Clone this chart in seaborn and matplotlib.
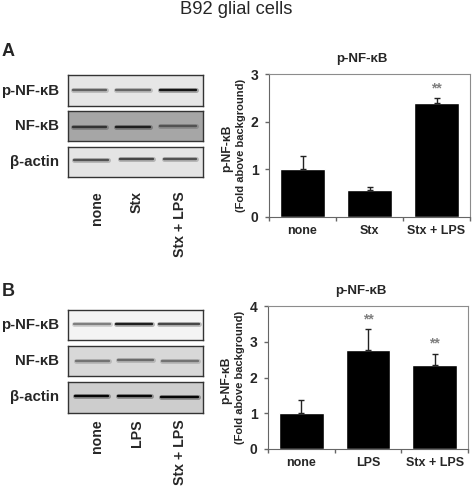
import matplotlib
matplotlib.use("Agg")
import matplotlib.pyplot as plt
import seaborn as sns
import pandas as pd

W = 472
H = 488

sns.set_style("white")
plt.rcParams['font.family'] = ['Liberation Sans', 'DejaVu Sans']

blot_names = ["p-NF-κB", "NF-κB", "β-actin"]
lanes_a = ["none", "Stx", "Stx + LPS"]
lanes_b = ["none", "LPS", "Stx + LPS"]

values_a = [1.0, 0.56, 2.4]
err_top_a = [1.27, 0.63, 2.5]
values_b = [1.0, 2.76, 2.36]
err_top_b = [1.38, 3.35, 2.67]
stars_a = ["", "", "**"]
stars_b = ["", "**", "**"]

# band darkness per lane (0 white, 1 black)
bands_a = [[0.62, 0.6, 0.92], [0.8, 0.88, 0.68], [0.68, 0.72, 0.68]]
bands_b = [[0.5, 0.88, 0.72], [0.55, 0.58, 0.55], [0.98, 0.98, 0.98]]
# band extent inside the blot (0-135 across, 0 at the top edge)
starts_a = [[4, 47, 91], [4, 47, 91], [5, 51, 95]]
ends_a = [[39, 83, 129], [39, 83, 129], [41, 86, 129]]
heights_a = [[15, 15, 15], [16, 15.5, 15], [13.5, 12.5, 12.5]]
starts_b = [[5, 47, 90], [7, 49, 93], [6, 49, 92]]
ends_b = [[43, 85, 132], [42, 86, 131], [41, 84, 131]]
heights_b = [[14, 14, 14], [15, 14, 15], [14, 14, 14.5]]
bg_a = ["#e6e6e6", "#a6a6a6", "#e4e4e4"]
bg_b = ["#f4f4f4", "#d8d8d8", "#cdcdcd"]


def make_ax(fig, left, top, right, bottom):
    return fig.add_axes([left / W, 1 - bottom / H, (right - left) / W, (bottom - top) / H])


def draw_blots(fig, rows, bands, starts, ends, heights, bgs, names, lanes, label_gap):
    for r, (top, bottom) in enumerate(rows):
        ax = make_ax(fig, 68, top, 203, bottom)
        ax.set_facecolor(bgs[r])
        for dark, x0, x1, y in zip(bands[r], starts[r], ends[r], heights[r]):
            g = 1 - dark
            d = pd.DataFrame({"x": [x0 + 1, x1 - 1], "y": [y, y]})
            sns.lineplot(data=d, x="x", y="y", ax=ax, color=(g, g, g), alpha=0.3,
                         lw=3.6, solid_capstyle="round")
            sns.lineplot(data=d, x="x", y="y", ax=ax, color=(g, g, g), lw=1.7,
                         solid_capstyle="round")
        ax.set_xlim(0, 135)
        ax.set_ylim(bottom - top, 0)
        ax.set_xticks([])
        ax.set_yticks([])
        ax.set_xlabel("")
        ax.set_ylabel("")
        for s in ax.spines.values():
            s.set_visible(True)
            s.set_color("#333333")
            s.set_linewidth(1)
        fig.text(59 / W, 1 - (top + bottom) / 2 / H, names[r], ha="right", va="center",
                 fontsize=10.8, fontweight="bold")
    # lane labels under the last blot
    for lab, x in zip(lanes, [97, 137, 180]):
        fig.text(x / W, 1 - (rows[-1][1] + label_gap) / H, lab, rotation=90,
                 ha="center", va="top", fontsize=10.2, fontweight="bold")


def draw_bars(fig, box, labels, values, err_top, stars, ymax):
    ax = make_ax(fig, *box)
    df = pd.DataFrame({"group": labels, "value": values})
    sns.barplot(data=df, x="group", y="value", ax=ax, color="black", saturation=1,
                width=0.67, errorbar=None)
    for i, (v, t, s) in enumerate(zip(values, err_top, stars)):
        ax.errorbar(i, v, yerr=[[0], [t - v]], color="#222222", lw=1, capsize=2.5, capthick=1)
        if s:
            ax.text(i, t + 0.02 * ymax, s, ha="center", va="bottom", color="#808080",
                    fontsize=10, fontweight="bold")
    ax.set_xlim(-0.5, 2.5)
    ax.set_ylim(0, ymax)
    ax.set_yticks(range(ymax + 1))
    ax.set_xticks([-0.5, 0.5, 1.5, 2.5])
    ax.set_xticklabels([])
    ax.tick_params(axis="x", length=3, width=1, color="#666666", direction="out", bottom=True)
    ax.tick_params(axis="y", length=3, width=1, color="#666666", direction="out", left=True,
                   labelsize=10, pad=4.5)
    for lab in ax.get_yticklabels():
        lab.set_fontweight("bold")
    for i, lab in enumerate(labels):
        ax.text(i, -0.1, lab, transform=ax.get_xaxis_transform(), ha="center", va="center",
                fontsize=9, fontweight="bold")
    ax.set_xlabel("")
    ax.set_ylabel("")
    for name in ["left", "bottom"]:
        ax.spines[name].set_color("#666666")
    for name in ["top", "right"]:
        ax.spines[name].set_color("#8c8c8c")
    ax.text(0.463, 1.105, "p-NF-κB", transform=ax.transAxes, ha="center", va="center",
            fontsize=9.5, fontweight="bold")
    ax.text(-0.21, 0.48, "p-NF-κB", transform=ax.transAxes, rotation=90,
            ha="center", va="center", fontsize=8.7, fontweight="bold")
    ax.text(-0.14, 0.50, "(Fold above background)", transform=ax.transAxes, rotation=90,
            ha="center", va="center", fontsize=8, fontweight="bold")


fig = plt.figure(figsize=(W / 100, H / 100), dpi=100)
fig.text(236 / W, 1 - 10 / H, "B92 glial cells", ha="center", va="center", fontsize=13.2)
fig.text(2 / W, 1 - 51 / H, "A", ha="left", va="center", fontsize=13, fontweight="bold")
fig.text(2 / W, 1 - 291 / H, "B", ha="left", va="center", fontsize=13, fontweight="bold")

draw_blots(fig, [(75, 106), (111, 141), (147, 177)], bands_a, starts_a, ends_a, heights_a,
           bg_a, blot_names, lanes_a, 14)
draw_blots(fig, [(310, 340), (346, 376), (382, 413)], bands_b, starts_b, ends_b, heights_b,
           bg_b, blot_names, lanes_b, 6)
draw_bars(fig, (269, 74, 470, 217), lanes_a, values_a, err_top_a, stars_a, 3)
draw_bars(fig, (268, 306, 468, 449), lanes_b, values_b, err_top_b, stars_b, 4)

fig.savefig("out.png", dpi=100)
